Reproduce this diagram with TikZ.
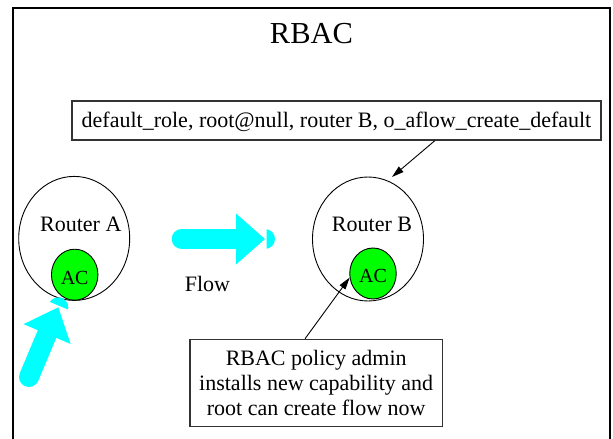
\documentclass[tikz,border=0pt]{standalone}
\usepackage{fontspec}
\setmainfont{Liberation Serif}
\usetikzlibrary{shapes.geometric,arrows.meta,calc}
\definecolor{flowcyan}{HTML}{00FFFF}
\definecolor{acgreen}{HTML}{00FF00}

\tikzset{
  txt/.style={font=\fontsize{22}{25}\selectfont, inner sep=0pt},
  box/.style={draw=black!80, line width=1.2pt, rectangle, inner sep=0pt},
  router/.style={ellipse, draw, line width=0.9pt, minimum width=111pt,
    minimum height=124pt, inner sep=0pt},
  ac/.style={ellipse, draw, line width=0.9pt, fill=acgreen,
    minimum width=46.5pt, minimum height=51pt, inner sep=0pt,
    font=\fontsize{20}{24}\selectfont, text height=18.6pt, text depth=0pt},
  conn/.style={line width=0.9pt, -{Triangle[length=12pt,width=7pt]}},
  frameline/.style={line width=2pt},
  % thick cyan flow arrow, tip at the origin, pointing along +x
  pics/fatarrow/.style={code={
    \fill[flowcyan] (-29,-25.5) -- (0,0) -- (-29,25.5) -- cycle;
    \draw[flowcyan, line width=20pt, line cap=round] (-#1,0) -- (-29,0);
    \begin{scope}
      \clip (1.7,-15) -- (15,-15) -- (15,15) -- (1.7,15) -- cycle;
      \fill[flowcyan] (0,0) circle[radius=10pt];
    \end{scope}
  }}
}

\begin{document}
\begin{tikzpicture}[x=1pt,y=-1pt]
\useasboundingbox (0,0) rectangle (613,439);

% outer frame
\draw[frameline] (13,439) -- (13,8) -- (610,8) -- (610,439);

% title
\node[font=\fontsize{30.5}{36}\selectfont, anchor=base, inner sep=0pt]
  (title) at (311.5,43) {RBAC};

% role / capability boxes
\node[box, txt, minimum width=529pt, minimum height=39pt,
  text height=16pt, text depth=2pt] (policy) at (336.5,120.5)
  {default\_role, root@null, router B, o\_aflow\_create\_default};
\node[box, txt, align=center, minimum width=252.3pt, minimum height=87.4pt]
  (admin) at (316.2,383)
  {RBAC policy admin\\installs new capability and\\root can create flow now};

% routers
\node[router] (routerA) at (74.2,238.4) {};
\node[router] (routerB) at (368,239) {};
\node[txt, anchor=base] (labelA) at (80.8,231.7) {Router A};
\node[txt, anchor=base] (labelB) at (372,231.7) {Router B};
\node[ac] (acA) at (74.7,274.7) {AC};
\node[ac] (acB) at (373,273.5) {AC};

% flows
\node[txt, anchor=base] (flowlabel) at (207.5,291.7) {Flow};
\coordinate (flowtip) at (265,239);
\coordinate (inTip) at (58.3,307.3);
\pic at (flowtip) {fatarrow=83.3};
\pic[rotate=67.2] at (inTip) {fatarrow=75.6};

% connectors
\coordinate (rbIn) at (392,177);
\draw[conn] ($(policy.south west)!0.6856!(policy.south east)$) -- (rbIn);
\draw[conn] ($(admin.north west)!0.456!(admin.north east)$) -- (acB.190);
\end{tikzpicture}
\end{document}
